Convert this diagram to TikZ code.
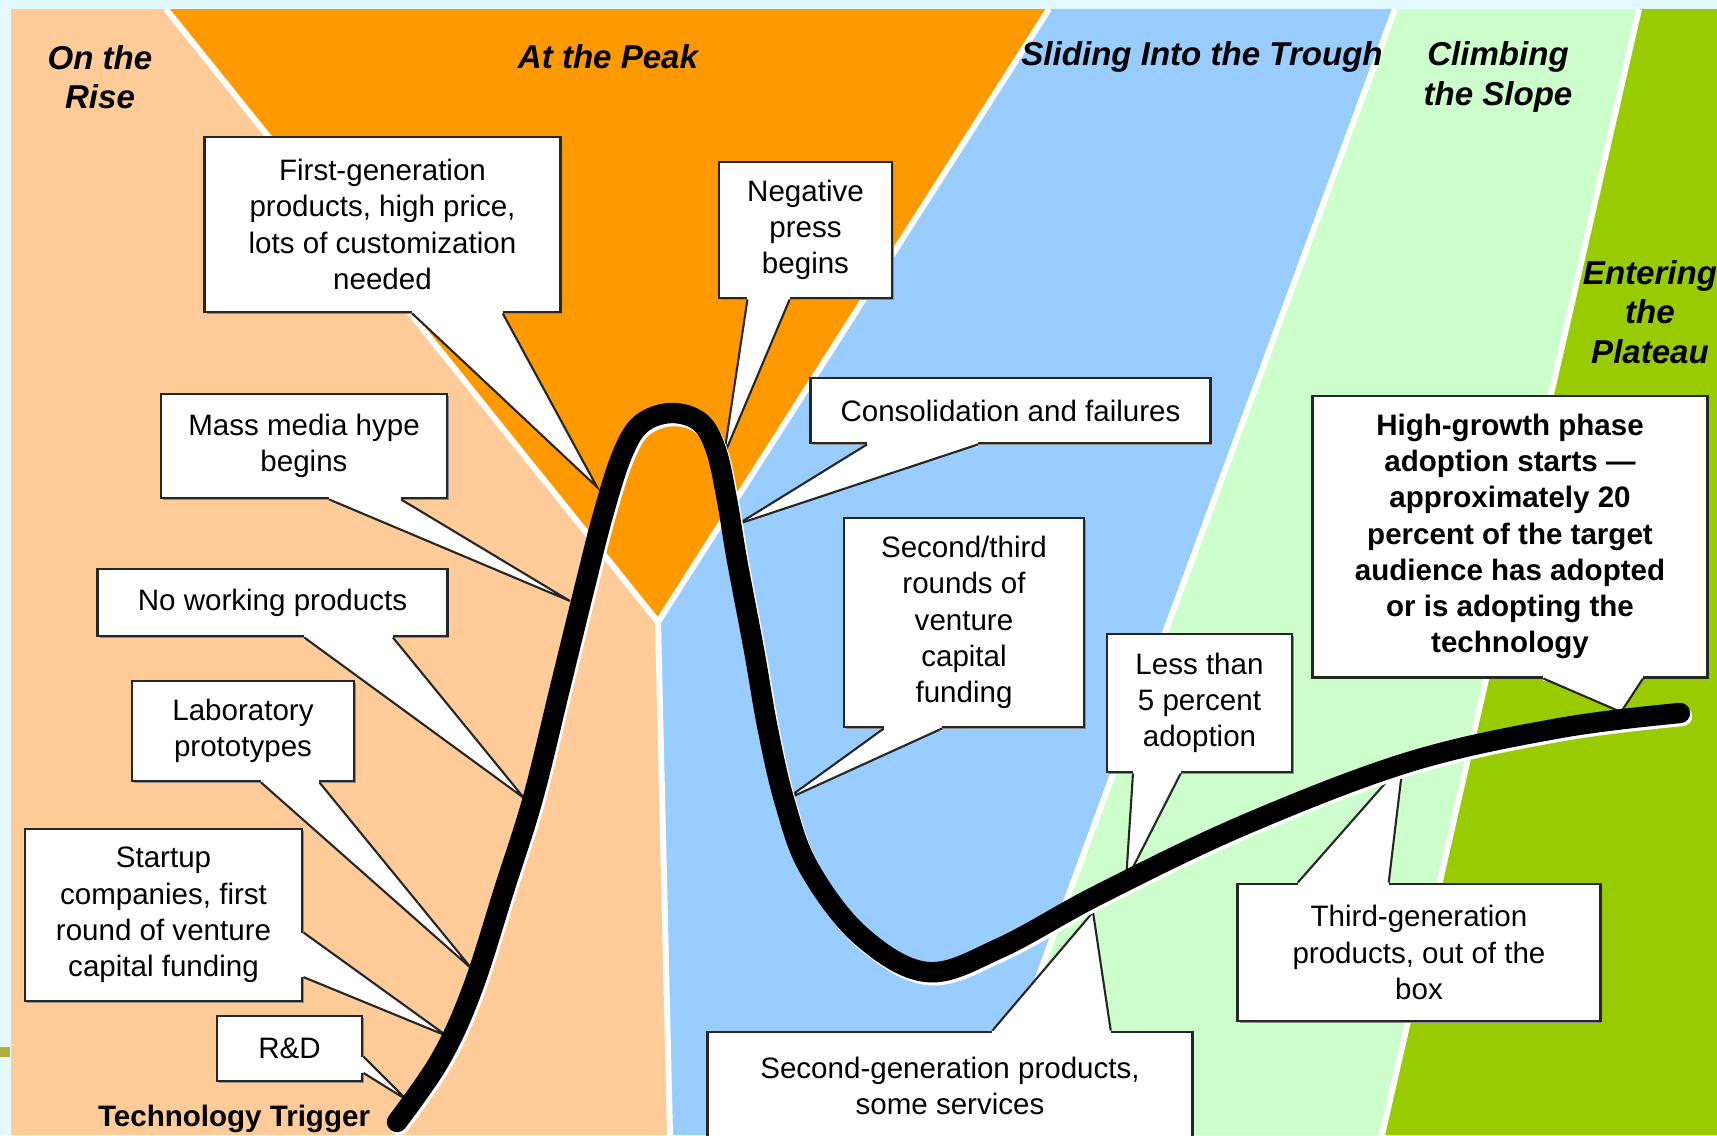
\documentclass[tikz,border=0pt]{standalone}
\usepackage{fontspec}
\setmainfont{Liberation Sans}
\usepackage{tikz}
\usetikzlibrary{shadows}
\definecolor{risepeach}{RGB}{255,204,153}
\definecolor{peakorange}{RGB}{255,153,0}
\definecolor{troughblue}{RGB}{153,204,255}
\definecolor{slopegreen}{RGB}{204,255,204}
\definecolor{plateaugreen}{RGB}{153,204,0}
\definecolor{framecyan}{RGB}{226,249,255}
\definecolor{olivemark}{RGB}{176,176,60}
\tikzset{
  phase/.style={align=center, font=\fontsize{9.4}{11.2}\selectfont\bfseries\itshape},
  callbox/.style={draw=black!85, line width=0.8pt, fill=white, inner sep=2pt,
    drop shadow={shadow xshift=0.6pt, shadow yshift=-0.6pt, fill=black!45, opacity=1},
    align=center, font=\fontsize{8.4}{10.3}\selectfont},
  boldbox/.style={callbox, font=\fontsize{8.4}{10.3}\selectfont\bfseries},
  ptrline/.style={draw=black!85, line width=0.6pt},
  bandsep/.style={white, line width=1.7pt},
  hype/.style={line width=5.8pt, line cap=round, line join=round},
}
% pointer of a callout: box, side from, side to, base fractions, tip
\newcommand{\calloutptr}[6]{%
  \path (#1.#2) -- coordinate[pos=#4] (#1-a) coordinate[pos=#5] (#1-b) (#1.#3);
  \fill[white] (#1-a) -- (#6) -- (#1-b) -- cycle;
  \draw[white, line width=1.4pt] (#1-a) -- (#1-b);
  \draw[ptrline] (#1-a) -- (#6) -- (#1-b);
}
\newcommand{\hypepoints}{(397,1122) (440,1060) (472,990) (505,887) (533,798)
  (560,688) (584,590) (603,515) (622,455) (641,424) (671,413) (700,422)
  (716,450) (727,500) (737,560) (754,650) (768,730) (785,803) (809,868)
  (860,935) (927,972) (1000,948) (1100,894) (1244,825) (1409,762)
  (1560,728) (1680,713)}

\begin{document}
\begin{tikzpicture}[x=0.01cm, y=-0.01cm]
  \useasboundingbox (0,0) rectangle (1717,1135);
  \fill[framecyan] (0,0) rectangle (1717,1135);
  \fill[olivemark] (0,1047) rectangle (10,1057);

  % Phase bands
  \fill[risepeach] (11,9) -- (166,9) -- (658,622) -- (670,1135) -- (11,1135) -- cycle;
  \fill[peakorange] (166,9) -- (1049,9) -- (658,622) -- cycle;
  \fill[troughblue] (1049,9) -- (1395,9) -- (980,1135) -- (670,1135) -- (658,622) -- cycle;
  \fill[slopegreen] (1395,9) -- (1639,9) -- (1382,1135) -- (980,1135) -- cycle;
  \fill[plateaugreen] (1639,9) -- (1717,9) -- (1717,1135) -- (1382,1135) -- cycle;
  \draw[bandsep] (166,9) -- (658,622) -- (1049,9);
  \draw[bandsep] (658,622) -- (670,1135);
  \draw[bandsep] (1395,9) -- (980,1135);
  \draw[bandsep] (1639,9) -- (1382,1135);

  % Phase titles
  \node[phase] (rise) at (100,77) {On the\\Rise};
  \node[phase] (peak) at (608,57) {At the Peak};
  \node[phase] (trough) at (1202,57) {Sliding Into the Trough};
  \node[phase] (slope) at (1498,77) {Climbing\\the Slope};
  \node[phase] (plateau) at (1650,312) {Entering\\the\\Plateau};

  % Points on the curve
  \coordinate (onRD) at (407,1100);
  \coordinate (onSU) at (447,1036);
  \coordinate (onLAB) at (472,969);
  \coordinate (onNWP) at (524,798);
  \coordinate (onMM) at (570,601);
  \coordinate (onFG) at (597,487);
  \coordinate (onNEG) at (724,455);
  \coordinate (onCONS) at (738,524);
  \coordinate (onST) at (785,800);
  \coordinate (onSG) at (1093,912);
  \coordinate (onLT) at (1126,881);
  \coordinate (onTG) at (1403,763);
  \coordinate (onHG) at (1621,712);

  % Callouts
  \node[callbox, minimum width=3.55cm, minimum height=1.75cm] (fg) at (382.5,224.5)
    {First-generation\\products, high price,\\lots of customization\\needed};
  \calloutptr{fg}{south west}{south east}{0.583}{0.836}{onFG}
  \node[callbox, minimum width=1.73cm, minimum height=1.36cm] (neg) at (805.5,230)
    {Negative\\press\\begins};
  \calloutptr{neg}{south west}{south east}{0.17}{0.41}{onNEG}
  \node[callbox, minimum width=2.86cm, minimum height=1.04cm] (mm) at (304,446)
    {Mass media hype\\begins};
  \calloutptr{mm}{south west}{south east}{0.587}{0.836}{onMM}
  \node[callbox, minimum width=3.99cm, minimum height=0.65cm] (cons) at (1010.5,410.5)
    {Consolidation and failures};
  \calloutptr{cons}{south west}{south east}{0.143}{0.419}{onCONS}
  \node[callbox, minimum width=3.49cm, minimum height=0.67cm] (nwp) at (272.5,602.5)
    {No working products};
  \calloutptr{nwp}{south west}{south east}{0.59}{0.842}{onNWP}
  \node[callbox, minimum width=2.22cm, minimum height=1.0cm] (lab) at (243,731)
    {Laboratory\\prototypes};
  \calloutptr{lab}{south west}{south east}{0.58}{0.84}{onLAB}
  \node[callbox, minimum width=2.77cm, minimum height=1.72cm] (su) at (163.5,915)
    {Startup\\companies, first\\round of venture\\capital funding};
  \calloutptr{su}{north east}{south east}{0.6}{0.855}{onSU}
  \node[callbox, minimum width=1.45cm, minimum height=0.65cm] (rd) at (289.5,1048.5)
    {R\&D};
  \calloutptr{rd}{north east}{south east}{0.62}{0.86}{onRD}
  \node[callbox, minimum width=2.4cm, minimum height=2.09cm] (st) at (964,622.5)
    {Second/third\\rounds of\\venture\\capital\\funding};
  \calloutptr{st}{south west}{south east}{0.17}{0.41}{onST}
  \node[callbox, minimum width=1.85cm, minimum height=1.38cm] (lt) at (1199.5,703)
    {Less than\\5 percent\\adoption};
  \calloutptr{lt}{south west}{south east}{0.146}{0.4}{onLT}
  \node[boldbox, minimum width=3.94cm, minimum height=2.81cm] (hg) at (1510,536.5)
    {High-growth phase\\adoption starts ---\\approximately 20\\percent of the target\\audience has adopted\\or is adopting the\\technology};
  \calloutptr{hg}{south west}{south east}{0.584}{0.835}{onHG}
  \node[callbox, minimum width=3.62cm, minimum height=1.37cm] (tg) at (1419,952.5)
    {Third-generation\\products, out of the\\box};
  \calloutptr{tg}{north west}{north east}{0.168}{0.417}{onTG}
  \node[callbox, minimum width=4.84cm, minimum height=1.08cm] (sg) at (950,1086)
    {Second-generation products,\\some services};
  \calloutptr{sg}{north west}{north east}{0.587}{0.83}{onSG}

  % Hype curve
  \draw[hype, white, shift={(2,3)}] plot[smooth, tension=0.6] coordinates {\hypepoints};
  \draw[hype] plot[smooth, tension=0.6] coordinates {\hypepoints};

  \node[font=\fontsize{8.4}{10.3}\selectfont\bfseries] (trigger) at (234,1119)
    {Technology Trigger};
\end{tikzpicture}
\end{document}
